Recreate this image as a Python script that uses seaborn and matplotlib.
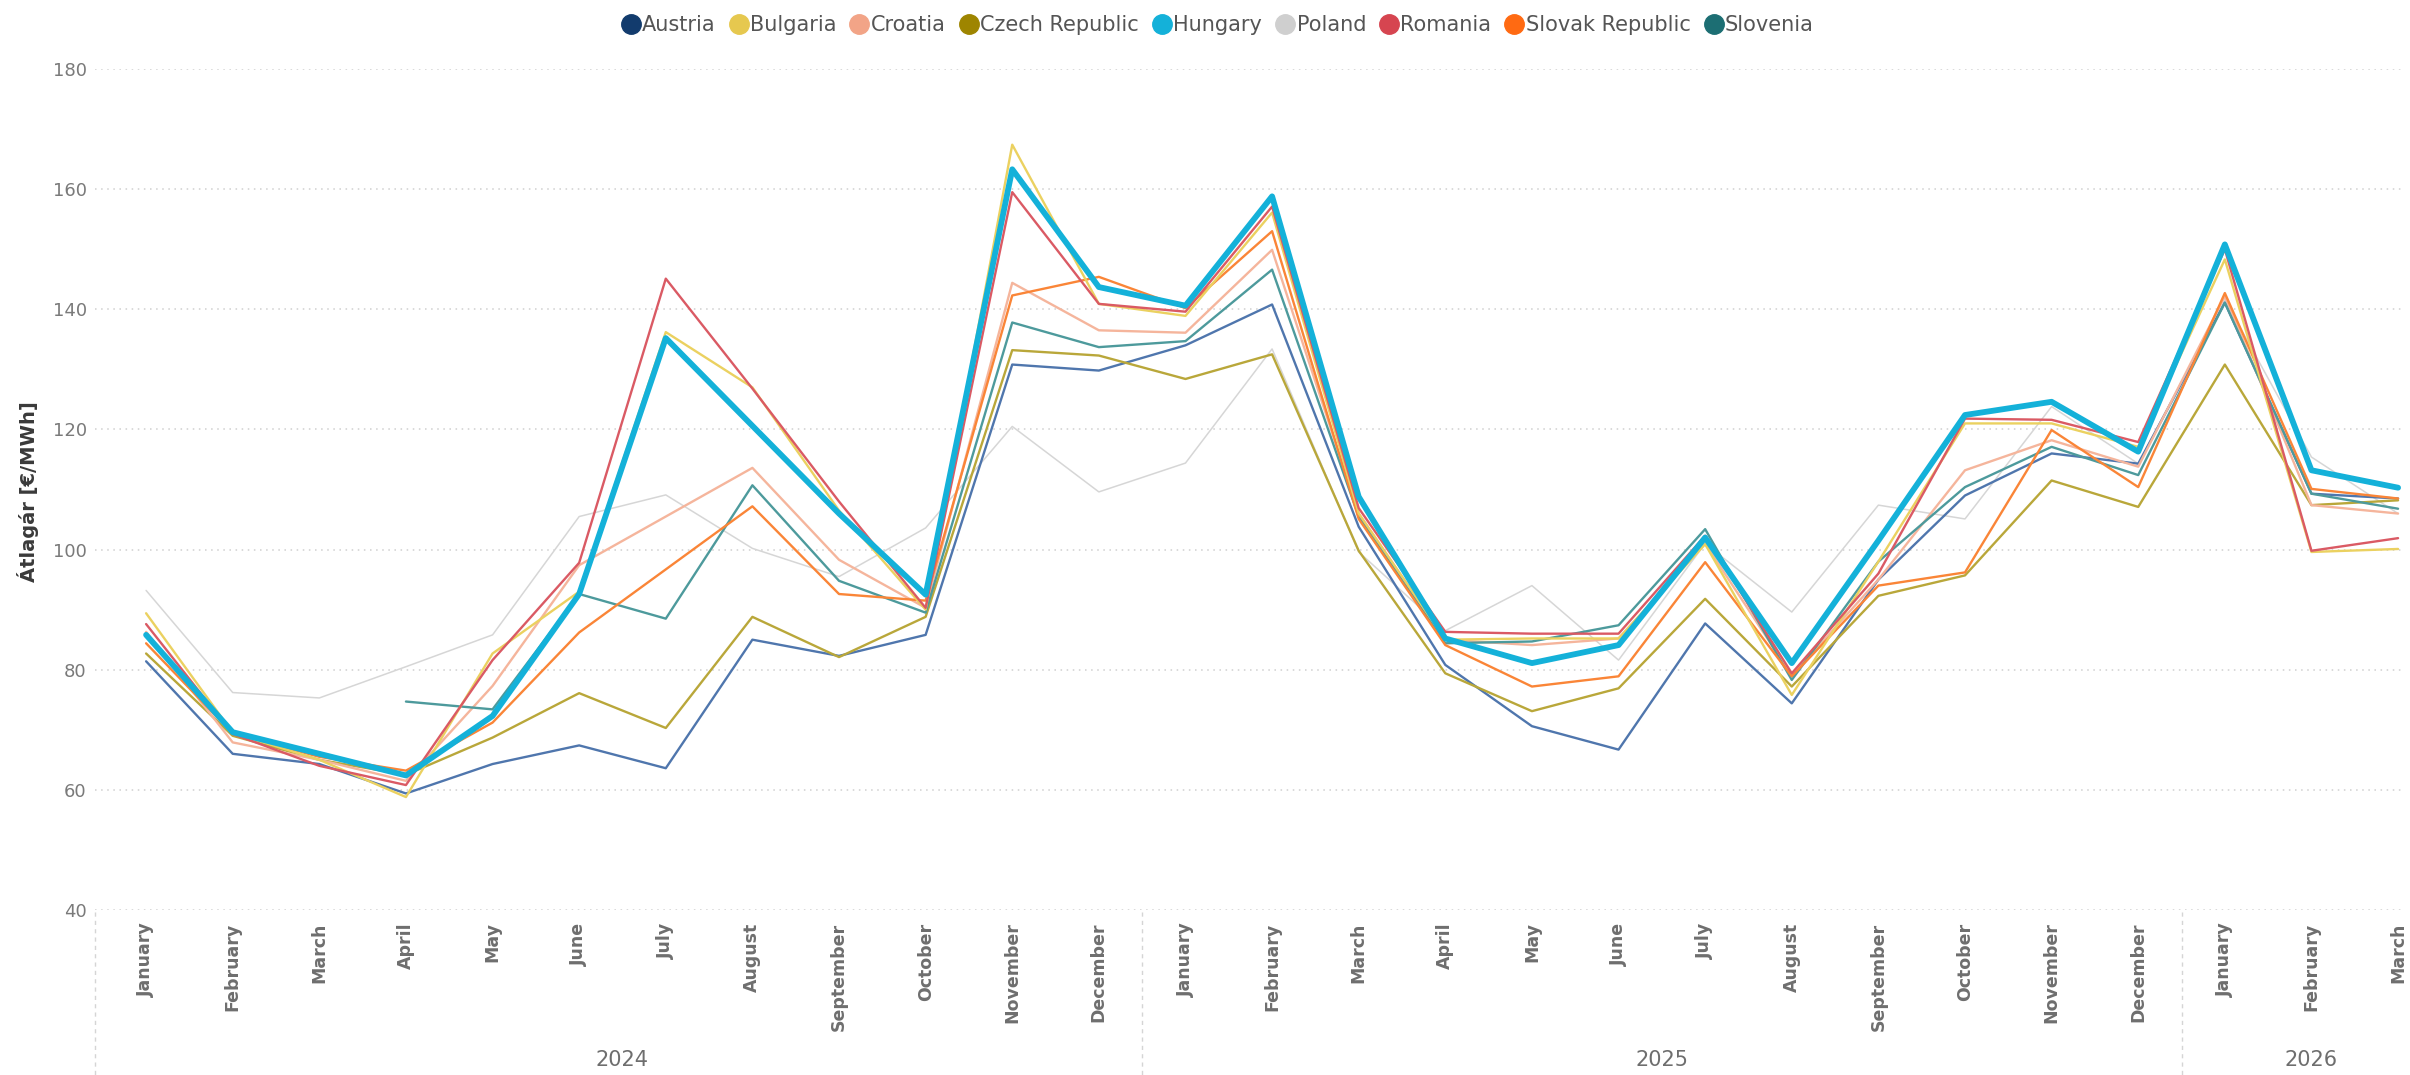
import numpy as np
import pandas as pd
import matplotlib
matplotlib.use("Agg")
import matplotlib.pyplot as plt
import matplotlib.transforms as mtransforms
from matplotlib.lines import Line2D
import seaborn as sns

months = ["January", "February", "March", "April", "May", "June", "July", "August",
          "September", "October", "November", "December",
          "January", "February", "March", "April", "May", "June", "July", "August",
          "September", "October", "November", "December",
          "January", "February", "March"]
years = ["2024"] * 12 + ["2025"] * 12 + ["2026"] * 3

countries = ["Austria", "Bulgaria", "Croatia", "Czech Republic", "Hungary",
             "Poland", "Romania", "Slovak Republic", "Slovenia"]

austria = [81.4, 66.0, 64.3, 59.4, 64.3, 67.4, 63.6, 85.0, 82.3, 85.8, 130.8, 129.8,
           134.0, 140.8, 103.8, 80.8, 70.6, 66.7, 87.7, 74.4, 95.0, 109.0, 116.0, 114.3,
           141.1, 109.3, 108.5]
bulgaria = [89.4, 69.5, 65.0, 58.8, 82.7, 93.0, 136.2, 127.0, 106.5, 90.0, 167.4, 140.9,
            138.9, 156.1, 106.0, 85.0, 85.2, 85.2, 100.9, 75.8, 98.0, 121.0, 121.0, 117.1,
            148.3, 99.6, 100.1]
croatia = [86.3, 67.9, 65.0, 61.5, 77.3, 97.4, 105.5, 113.6, 98.3, 90.3, 144.4, 136.5,
           136.1, 149.9, 106.0, 85.0, 84.1, 85.2, 101.0, 79.0, 95.0, 113.2, 118.2, 113.8,
           142.2, 107.4, 106.0]
czech = [82.7, 69.0, 65.0, 62.5, 68.7, 76.1, 70.3, 88.8, 82.1, 88.8, 133.2, 132.3,
         128.4, 132.5, 99.8, 79.4, 73.1, 76.9, 91.8, 77.2, 92.3, 95.7, 111.5, 107.1,
         130.8, 107.4, 108.2]
hungary = [85.8, 69.6, 66.0, 62.4, 72.3, 92.6, 135.2, 120.6, 106.0, 92.5, 163.3, 143.7,
           140.6, 158.8, 108.8, 85.2, 81.1, 84.1, 102.0, 81.1, 101.5, 122.4, 124.6, 116.3,
           150.8, 113.2, 110.3]
poland = [93.2, 76.2, 75.3, 80.5, 85.8, 105.5, 109.1, 100.2, 95.5, 103.6, 120.5, 109.6,
          114.4, 133.4, 99.6, 86.5, 94.0, 81.6, 101.0, 89.6, 107.4, 105.1, 123.8, 114.3,
          141.6, 115.4, 106.0]
romania = [87.6, 69.3, 64.0, 60.8, 81.6, 97.8, 145.1, 126.8, 108.0, 90.3, 159.5, 140.9,
           139.6, 157.1, 106.9, 86.3, 86.0, 86.0, 102.3, 79.4, 96.0, 121.8, 121.6, 117.9,
           150.0, 99.8, 101.9]
slovakia = [84.4, 69.4, 65.5, 63.2, 71.2, 86.2, 96.7, 107.2, 92.6, 91.5, 142.3, 145.4,
            140.2, 153.0, 105.1, 84.1, 77.2, 78.9, 97.9, 78.9, 94.0, 96.2, 119.9, 110.4,
            142.7, 110.1, 108.5]
slovenia = [np.nan, np.nan, np.nan, 74.7, 73.4, 92.6, 88.5, 110.7, 94.8, 89.5, 137.8, 133.7,
            134.7, 146.6, 105.5, 84.4, 84.7, 87.4, 103.4, 78.3, 98.0, 110.4, 117.1, 112.4,
            141.1, 109.3, 106.8]

series = [austria, bulgaria, croatia, czech, hungary, poland, romania, slovakia, slovenia]

legend_colors = ["#123B6D", "#E6C84F", "#F2A487", "#9E8500", "#14B1D9",
                 "#CFCFCF", "#D64550", "#FF6A12", "#1C6E73"]
line_colors = ["#4F76AD", "#EBD160", "#F5B59C", "#B9A73A", "#14B1D9",
               "#D6D6D6", "#DA5A64", "#FA8537", "#4D9A9C"]

rows = []
for c, vals in zip(countries, series):
    for i, v in enumerate(vals):
        if not np.isnan(v):
            rows.append((c, i, v))
df = pd.DataFrame(rows, columns=["country", "idx", "price"])

sns.set_style("white")
plt.rcParams['font.family'] = ['DejaVu Sans']

W, H = 2410, 1075
fig = plt.figure(figsize=(W / 100, H / 100), dpi=100)
ax = fig.add_axes([95 / W, 1 - 910 / H, (2405 - 95) / W, (910 - 69) / H])

draw_order = ["Poland", "Austria", "Czech Republic", "Croatia", "Slovenia",
              "Slovak Republic", "Bulgaria", "Romania", "Hungary"]
for c in draw_order:
    k = countries.index(c)
    lw = 4.2 if c == "Hungary" else (1.1 if c == "Poland" else 1.7)
    sns.lineplot(data=df[df.country == c], x="idx", y="price", ax=ax,
                 color=line_colors[k], lw=lw, errorbar=None, legend=False,
                 zorder=5 if c == "Hungary" else 3)

ax.set_xlim(-0.59, 26.08)
ax.set_ylim(40, 180)
ax.set_yticks(range(40, 181, 20))
ax.grid(axis="y", color="#cfcfcf", linestyle=(0, (1, 3)), linewidth=1.1)
ax.grid(axis="x", visible=False)
for s in ax.spines.values():
    s.set_visible(False)
ax.tick_params(axis="y", length=0, pad=6, labelsize=13, labelcolor="#7a7a7a")
ax.set_xticks(range(len(months)))
ax.set_xticklabels(months, rotation=90, fontsize=12.5, fontweight="bold",
                   color="#6e6e6e", va="top")
ax.tick_params(axis="x", length=0, pad=9)
ax.set_xlabel("")
ax.set_ylabel("")

fig.text(28 / W, 1 - 492 / H, "Átlagár [€/MWh]", rotation=90, ha="center", va="center",
         fontsize=14, fontweight="bold", color="#3a3a3a")

# year labels and separators below the month labels
trans = mtransforms.blended_transform_factory(ax.transData, fig.transFigure)
year_names = []
for y in years:
    if y not in year_names:
        year_names.append(y)
for y in year_names:
    pos = [i for i, yy in enumerate(years) if yy == y]
    fig.text((pos[0] + pos[-1]) / 2, 1 - 1060 / H, y, transform=trans, ha="center",
             va="center", fontsize=15, color="#6e6e6e")
    if pos[0] > 0:
        ax.plot([pos[0] - 0.5, pos[0] - 0.5], [1 - 912 / H, 0.0], transform=trans,
                color="#d5d5d5", lw=1, ls=(0, (3, 3)), clip_on=False)
ax.plot([-0.59, -0.59], [1 - 912 / H, 0.0], transform=trans,
        color="#d5d5d5", lw=1, ls=(0, (3, 3)), clip_on=False)

handles = [Line2D([0], [0], marker="o", color="none", markerfacecolor=col,
                  markeredgecolor=col, markersize=14) for col in legend_colors]
fig.legend(handles, countries, loc="center", bbox_to_anchor=(0.505, 1 - 25 / H),
           ncol=len(countries), frameon=False, fontsize=15, handletextpad=0.05,
           columnspacing=0.6, labelcolor="#555555", handlelength=1.0)

fig.savefig("out.png", dpi=100)
